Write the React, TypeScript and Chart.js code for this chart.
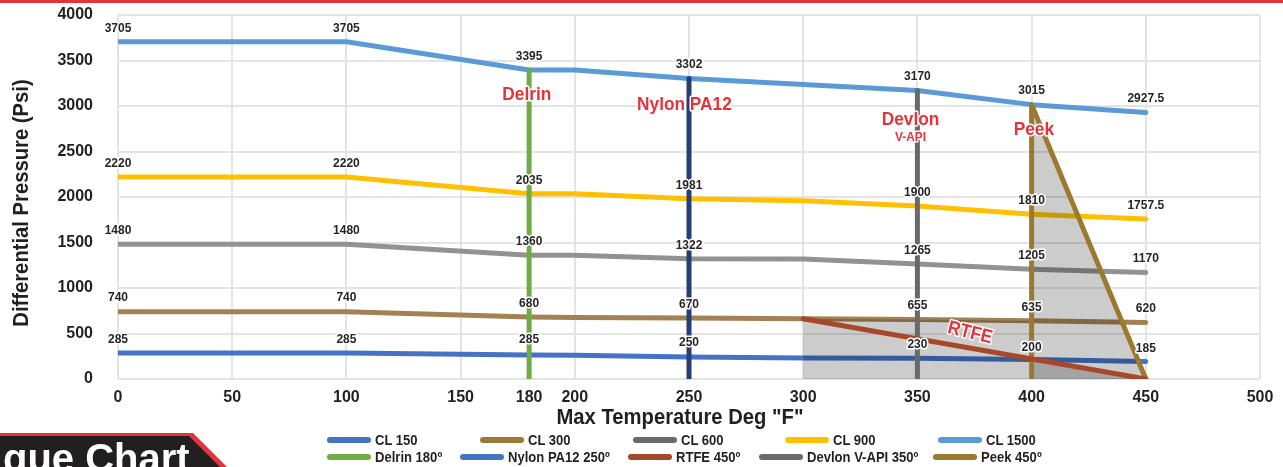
import React, { useEffect, useRef } from 'react';
import { Chart, registerables } from 'chart.js';

Chart.register(...registerables);

// ---------- data ----------
const xValues = [0, 100, 180, 200, 250, 300, 350, 400, 450];
const cl150 = [285, 285, 265, 262, 242, 230, 228, 213, 192];
const cl300 = [740, 740, 680, 676, 670, 662, 655, 640, 620];
const cl600 = [1480, 1480, 1360, 1360, 1322, 1318, 1265, 1205, 1170];
const cl900 = [2220, 2220, 2035, 2035, 1981, 1960, 1900, 1810, 1757.5];
const cl1500 = [3705, 3705, 3395, 3395, 3302, 3236, 3170, 3015, 2927.5];

const labelX = [0, 100, 180, 250, 350, 400, 450];
const cl150Labels = ['285', '285', '285', '250', '230', '200', '185'];
const cl300Labels = ['740', '740', '680', '670', '655', '635', '620'];
const cl600Labels = ['1480', '1480', '1360', '1322', '1265', '1205', '1170'];
const cl900Labels = ['2220', '2220', '2035', '1981', '1900', '1810', '1757.5'];
const cl1500Labels = ['3705', '3705', '3395', '3302', '3170', '3015', '2927.5'];

const delrinX = [180, 180];
const delrinY = [0, 3395];
const nylonX = [250, 250];
const nylonY = [0, 3302];
const devlonX = [350, 350];
const devlonY = [0, 3170];
const peekX = [400, 400, 450];
const peekY = [0, 3015, 0];
const rtfeX = [300, 450];
const rtfeY = [662, 0];
const shadeFrom = 300;
const shadeTo = 400;

const xTicks = [0, 50, 100, 150, 180, 200, 250, 300, 350, 400, 450, 500];
const yTicks = [0, 500, 1000, 1500, 2000, 2500, 3000, 3500, 4000];

const xTitle = 'Max Temperature Deg "F"';
const yTitle = 'Differential Pressure (Psi)';

const noteTexts = ['Delrin', 'Nylon PA12', 'Devlon', 'V-API', 'Peek', 'RTFE'];
const noteX = [179, 248, 347, 347, 401, 373];
const noteY = [3121, 3011, 2846, 2654, 2742, 505];

const legendLabels = [
  'CL 150', 'CL 300', 'CL 600', 'CL 900', 'CL 1500',
  'Delrin 180º', 'Nylon PA12 250º', 'RTFE 450º', 'Devlon V-API 350º', 'Peek 450º',
];

// ---------- styles ----------
const SANS = '"Liberation Sans", Arial, sans-serif';
const INK = '#231f20';
const RED = '#e5323b';
const SHADE = 'rgba(0,0,0,0.2)';
const CONDENSE = 0.91;

const legendColors = [
  '#4472c4', '#9c7936', '#6b6b6b', '#ffc000', '#5b9bd5',
  '#70ad47', '#4472c4', '#a5472b', '#6b6b6b', '#9c7a2e',
];
const legendLeft = [327, 480, 633, 785, 938, 327, 460, 628, 759, 933];
const legendRowY = [440, 457];
const noteSizes = [19, 19, 19, 13, 19, 19];
const noteAngles = [0, 0, 0, 0, 0, 14];

const toPts = (xs: number[], ys: number[]) => xs.map((x, i) => ({ x, y: ys[i] }));

function drawText(
  ctx: CanvasRenderingContext2D,
  text: string,
  x: number,
  y: number,
  font: string,
  fill: string,
  sx: number,
  angleDeg: number,
  halo: number,
) {
  ctx.save();
  ctx.translate(x, y);
  ctx.rotate((angleDeg * Math.PI) / 180);
  ctx.scale(sx, 1);
  ctx.font = font;
  ctx.textAlign = 'center';
  ctx.textBaseline = 'middle';
  if (halo > 0) {
    ctx.lineJoin = 'round';
    ctx.lineWidth = halo;
    ctx.strokeStyle = '#ffffff';
    ctx.strokeText(text, 0, 0);
  }
  ctx.fillStyle = fill;
  ctx.fillText(text, 0, 0);
  ctx.restore();
}

export default function App() {
  const canvasRef = useRef<HTMLCanvasElement>(null);

  useEffect(() => {
    const canvas = canvasRef.current;
    if (!canvas) return;

    const line = (label: string, data: any[], color: string, order: number) => ({
      label,
      data,
      borderColor: color,
      backgroundColor: color,
      borderWidth: 5,
      pointRadius: 0,
      pointHoverRadius: 0,
      tension: 0,
      fill: false,
      borderCapStyle: 'round',
      borderJoinStyle: 'round',
      order,
    });
    const area = (label: string, data: any[], fill: any) => ({
      label,
      data,
      borderColor: 'transparent',
      borderWidth: 0,
      backgroundColor: SHADE,
      pointRadius: 0,
      pointHoverRadius: 0,
      tension: 0,
      fill,
      order: 20,
    });

    const shadeIdx = xValues
      .map((x, i) => i)
      .filter((i) => xValues[i] >= shadeFrom && xValues[i] <= shadeTo);
    const shadePts = shadeIdx.map((i) => ({ x: xValues[i], y: cl300[i] }));

    const datasets: any[] = [
      line('CL 150', toPts(xValues, cl150), '#4472c4', 30),
      line('CL 300', toPts(xValues, cl300), '#a38153', 30),
      line('CL 600', toPts(xValues, cl600), '#929292', 30),
      line('CL 900', toPts(xValues, cl900), '#ffc000', 30),
      line('CL 1500', toPts(xValues, cl1500), '#5b9bd5', 30),
      area('rtfe-area', toPts(rtfeX, rtfeY), 'origin'), // index 5
      area('shade-area', shadePts, 5),
      area('peek-area', toPts(peekX, peekY), 'origin'),
      line('Delrin 180º', toPts(delrinX, delrinY), '#6fac46', 10),
      line('Nylon PA12 250º', toPts(nylonX, nylonY), '#233f75', 10),
      line('Devlon V-API 350º', toPts(devlonX, devlonY), '#696969', 10),
      line('Peek 450º', toPts(peekX, peekY), '#9b7a2d', 9),
      line('RTFE 450º', toPts(rtfeX, rtfeY), '#a8482a', 8),
    ];

    const seriesLabels = [cl150Labels, cl300Labels, cl600Labels, cl900Labels, cl1500Labels];

    const labelPlugin = {
      id: 'labels',
      afterDatasetsDraw(chart: any) {
        const { ctx, chartArea } = chart;
        const xs = chart.scales.x;
        const ys = chart.scales.y;
        // value labels
        seriesLabels.forEach((labels) => {
          labels.forEach((t, i) => {
            const px = xs.getPixelForValue(labelX[i]);
            const py = ys.getPixelForValue(parseFloat(t)) - 13.5;
            drawText(ctx, t, px, py, `bold 12px ${SANS}`, '#262626', 1, 0, 3);
          });
        });
        // material notes
        noteTexts.forEach((t, i) => {
          const px = xs.getPixelForValue(noteX[i]);
          const py = ys.getPixelForValue(noteY[i]);
          drawText(ctx, t, px, py, `bold ${noteSizes[i]}px ${SANS}`, RED, CONDENSE, noteAngles[i], 3);
        });
        // axis titles
        const midX = (chartArea.left + chartArea.right) / 2;
        const midY = (chartArea.top + chartArea.bottom) / 2;
        drawText(ctx, xTitle, midX - 9, chartArea.bottom + 39, `bold 22px ${SANS}`, INK, 0.92, 0, 0);
        drawText(ctx, yTitle, 22, midY + 6, `bold 22px ${SANS}`, INK, 0.92, -90, 0);
      },
    };

    const chart = new Chart(canvas, {
      type: 'line',
      data: { datasets },
      plugins: [labelPlugin],
      options: {
        animation: false,
        responsive: true,
        maintainAspectRatio: false,
        events: [],
        layout: { padding: { top: 15, right: 23, left: 0, bottom: 0 } },
        plugins: {
          legend: { display: false },
          tooltip: { enabled: false },
        },
        scales: {
          x: {
            type: 'linear',
            min: 0,
            max: 500,
            afterBuildTicks: (scale: any) => {
              scale.ticks = xTicks.map((v) => ({ value: v }));
            },
            afterFit: (scale: any) => {
              scale.height = 88;
            },
            border: { display: false },
            grid: {
              color: (c: any) => (c.tick && c.tick.value === 180 ? 'rgba(0,0,0,0)' : '#e4e4e4'),
              lineWidth: 2,
              drawTicks: true,
              tickLength: 9,
              tickColor: 'rgba(0,0,0,0)',
            },
            ticks: {
              autoSkip: false,
              maxRotation: 0,
              padding: 0,
              color: INK,
              font: { family: SANS, size: 16, weight: 'bold' },
              callback: (v: any) => String(v),
            },
          },
          y: {
            type: 'linear',
            min: 0,
            max: 4000,
            afterBuildTicks: (scale: any) => {
              scale.ticks = yTicks.map((v) => ({ value: v }));
            },
            afterFit: (scale: any) => {
              scale.width = 118;
            },
            border: { display: false },
            grid: {
              color: '#e4e4e4',
              lineWidth: 2,
              drawTicks: true,
              tickLength: 25,
              tickColor: 'rgba(0,0,0,0)',
            },
            ticks: {
              padding: 0,
              color: INK,
              font: { family: SANS, size: 16, weight: 'bold' },
              callback: (v: any) => String(v),
            },
          },
        },
      } as any,
    });

    return () => chart.destroy();
  }, []);

  return (
    <div
      style={{
        position: 'absolute',
        left: 0,
        top: 0,
        width: 1283,
        height: 467,
        background: '#ffffff',
        overflow: 'hidden',
      }}
    >
      <div style={{ position: 'absolute', left: 0, top: 0, width: 1283, height: 467 }}>
        <canvas ref={canvasRef} />
      </div>
      <div style={{ position: 'absolute', left: 0, top: 0, width: 1283, height: 3, background: '#e3343c' }} />
      {legendLabels.map((label, i) => (
        <div
          key={label}
          style={{
            position: 'absolute',
            left: legendLeft[i],
            top: legendRowY[i < 5 ? 0 : 1] - 9,
            height: 18,
            display: 'flex',
            alignItems: 'center',
            whiteSpace: 'nowrap',
          }}
        >
          <div style={{ width: 44, height: 6, borderRadius: 3, background: legendColors[i], marginRight: 4 }} />
          <span
            style={{
              font: `bold 14.5px ${SANS}`,
              color: INK,
              lineHeight: '18px',
              display: 'inline-block',
              transform: 'scaleX(0.9)',
              transformOrigin: 'left center',
            }}
          >
            {label}
          </span>
        </div>
      ))}
      <div
        style={{
          position: 'absolute',
          left: 0,
          top: 433,
          width: 230,
          height: 34,
          background: '#e3343c',
          clipPath: 'polygon(0 0, 193px 0, 227px 34px, 0 34px)',
        }}
      />
      <div
        style={{
          position: 'absolute',
          left: 0,
          top: 436,
          width: 230,
          height: 31,
          background: '#231f20',
          clipPath: 'polygon(0 0, 189px 0, 220px 31px, 0 31px)',
        }}
      />
      <div
        style={{
          position: 'absolute',
          left: 3,
          top: 438,
          font: `bold 40px ${SANS}`,
          lineHeight: '40px',
          color: '#ffffff',
          whiteSpace: 'nowrap',
        }}
      >
        que Chart
      </div>
    </div>
  );
}
